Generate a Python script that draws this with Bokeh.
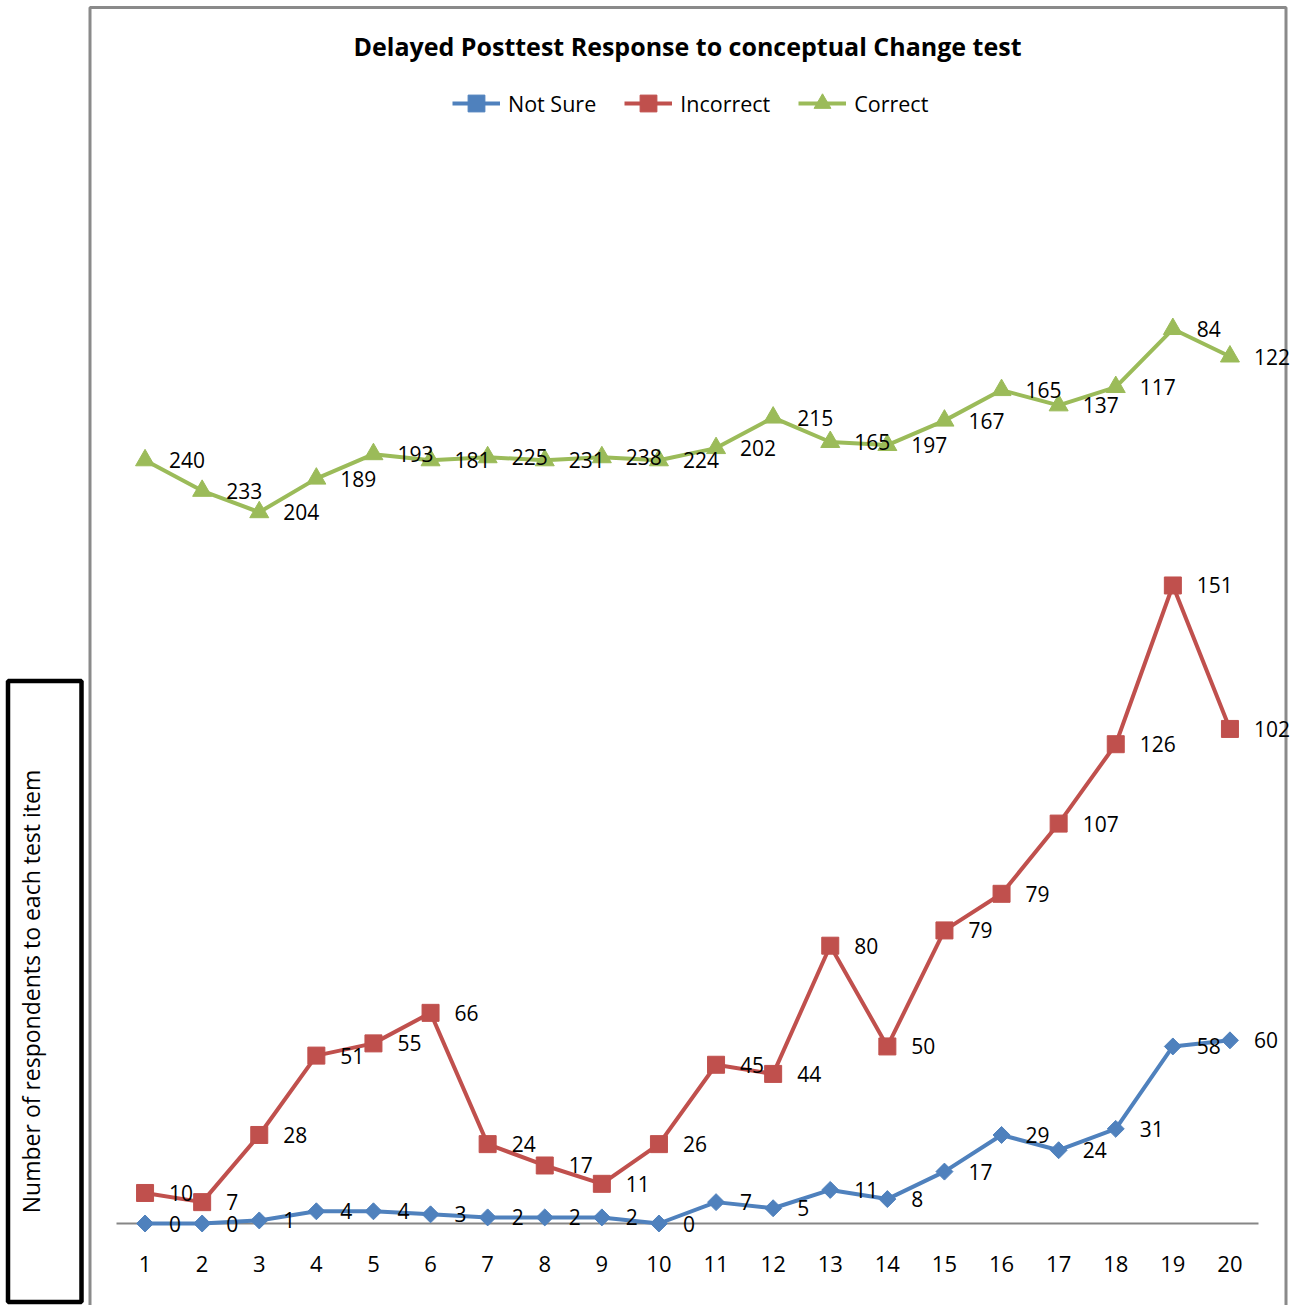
import numpy as np
from bokeh.plotting import figure
from bokeh.models import (FactorRange, Range1d, Legend, LegendItem, Label,
                          ColumnDataSource)
from bokeh.core.properties import value
from bokeh.embed import file_html
from bokeh.resources import INLINE

# ---------------- data ----------------
categories = ["1", "2", "3", "4", "5", "6", "7", "8", "9", "10",
              "11", "12", "13", "14", "15", "16", "17", "18", "19", "20"]
not_sure = [0, 0, 1, 4, 4, 3, 2, 2, 2, 0, 7, 5, 11, 8, 17, 29, 24, 31, 58, 60]
incorrect = [10, 7, 28, 51, 55, 66, 24, 17, 11, 26, 45, 44, 80, 50, 79, 79, 107, 126, 151, 102]
correct = [240, 233, 204, 189, 193, 181, 225, 231, 238, 224, 202, 215, 165, 197, 167, 165, 137, 117, 84, 122]
series_names = ["Not Sure", "Incorrect", "Correct"]
title_text = "Delayed Posttest Response to conceptual Change test"
y_title_text = "Number of respondents to each test item"

# stacked line chart (each series sits on top of the previous ones)
series = [not_sure, incorrect, correct]
stack_tops = np.cumsum(np.array(series, dtype=float), axis=0)

# ---------------- layout / styles ----------------
FONT = "Open Sans"
colors = ["#4F81BD", "#C0504D", "#9BBB59"]
markers = ["square", "square", "triangle"]
angles = [np.pi / 4, 0.0, 0.0]
msizes = [12, 17, 19]

W, H = 1291, 1305
B_LEFT, B_RIGHT, B_TOP, B_BOTTOM = 116, 33, 8, 82
Y_END = 398
FRAME_W = W - B_LEFT - B_RIGHT
FRAME_H = H - B_TOP - B_BOTTOM


def cx(px):
    """canvas pixel x -> synthetic x coordinate of the factor range"""
    return (px - B_LEFT) / FRAME_W * len(categories)


def cy(py):
    """canvas pixel y -> data y coordinate"""
    return (H - B_BOTTOM - py) / FRAME_H * Y_END


p = figure(width=W, height=H,
           x_range=FactorRange(factors=categories, range_padding=0),
           y_range=Range1d(0, Y_END),
           output_backend="svg", toolbar_location=None,
           y_axis_location=None,
           min_border_left=B_LEFT, min_border_right=B_RIGHT,
           min_border_top=B_TOP, min_border_bottom=B_BOTTOM)
p.title.visible = False
p.outline_line_color = None
p.background_fill_color = "white"
p.border_fill_color = "white"
p.xgrid.visible = False
p.ygrid.visible = False

ax = p.xaxis[0]
ax.axis_line_color = "#868686"
ax.axis_line_width = 2
ax.major_tick_line_color = None
ax.minor_tick_line_color = None
ax.major_label_standoff = 26
ax.major_label_text_font = FONT
ax.major_label_text_font_size = "22px"
ax.major_label_text_color = "black"

# decorations drawn unclipped (overlay level): grey chart border and boxed axis title
deco = p.quad(left=[cx(89.5)], right=[cx(1285.5)], top=[cy(7)], bottom=[cy(1340)],
              fill_color=None, line_color="#8a8a8a", line_width=3)
deco.level = "overlay"
box = p.quad(left=[cx(7.5)], right=[cx(81)], top=[cy(680.5)], bottom=[cy(1301.5)],
             fill_color=None, line_color="black", line_width=4.5)
box.level = "overlay"
yt = p.text(x=[cx(30)], y=[cy(991)], text=[y_title_text], angle=np.pi / 2,
            text_align="center", text_baseline="middle",
            text_font=value(FONT), text_font_size=value("23px"),
            text_color="black")
yt.level = "overlay"

legend_items = []
for name, vals, tops, col, mk, ang, ms in zip(series_names, series, stack_tops,
                                             colors, markers, angles, msizes):
    src = ColumnDataSource(dict(x=categories, y=tops, t=[str(v) for v in vals]))
    lr = p.line("x", "y", source=src, line_color=col, line_width=4)
    sr = p.scatter("x", "y", source=src, marker=mk, angle=ang, size=ms,
                   fill_color=col, line_color=col)
    lr.level = "overlay"
    sr.level = "overlay"
    legend_items.append(LegendItem(label=name, renderers=[lr, sr]))

for name, vals, tops in zip(series_names, series, stack_tops):
    src = ColumnDataSource(dict(x=categories, y=tops, t=[str(v) for v in vals]))
    tr = p.text("x", "y", text="t", source=src, x_offset=24,
                text_align="left", text_baseline="middle",
                text_font=value(FONT), text_font_size=value("21px"),
                text_color="black")
    tr.level = "overlay"

legend = Legend(items=legend_items, orientation="horizontal",
                location=(336, 1099), glyph_width=48, glyph_height=42,
                label_standoff=8, spacing=28, padding=0, margin=0,
                border_line_color=None, background_fill_alpha=0,
                label_text_font=FONT, label_text_font_size="21.5px",
                label_text_color="black")
p.add_layout(legend, "center")

# chart title
p.add_layout(Label(x=687, y=45, x_units="canvas", y_units="canvas",
                   text=title_text, text_align="center", text_baseline="middle",
                   text_font=FONT, text_font_size="25px",
                   text_font_style="bold", text_color="black"))

open("out.html", "w").write(file_html(p, INLINE))
